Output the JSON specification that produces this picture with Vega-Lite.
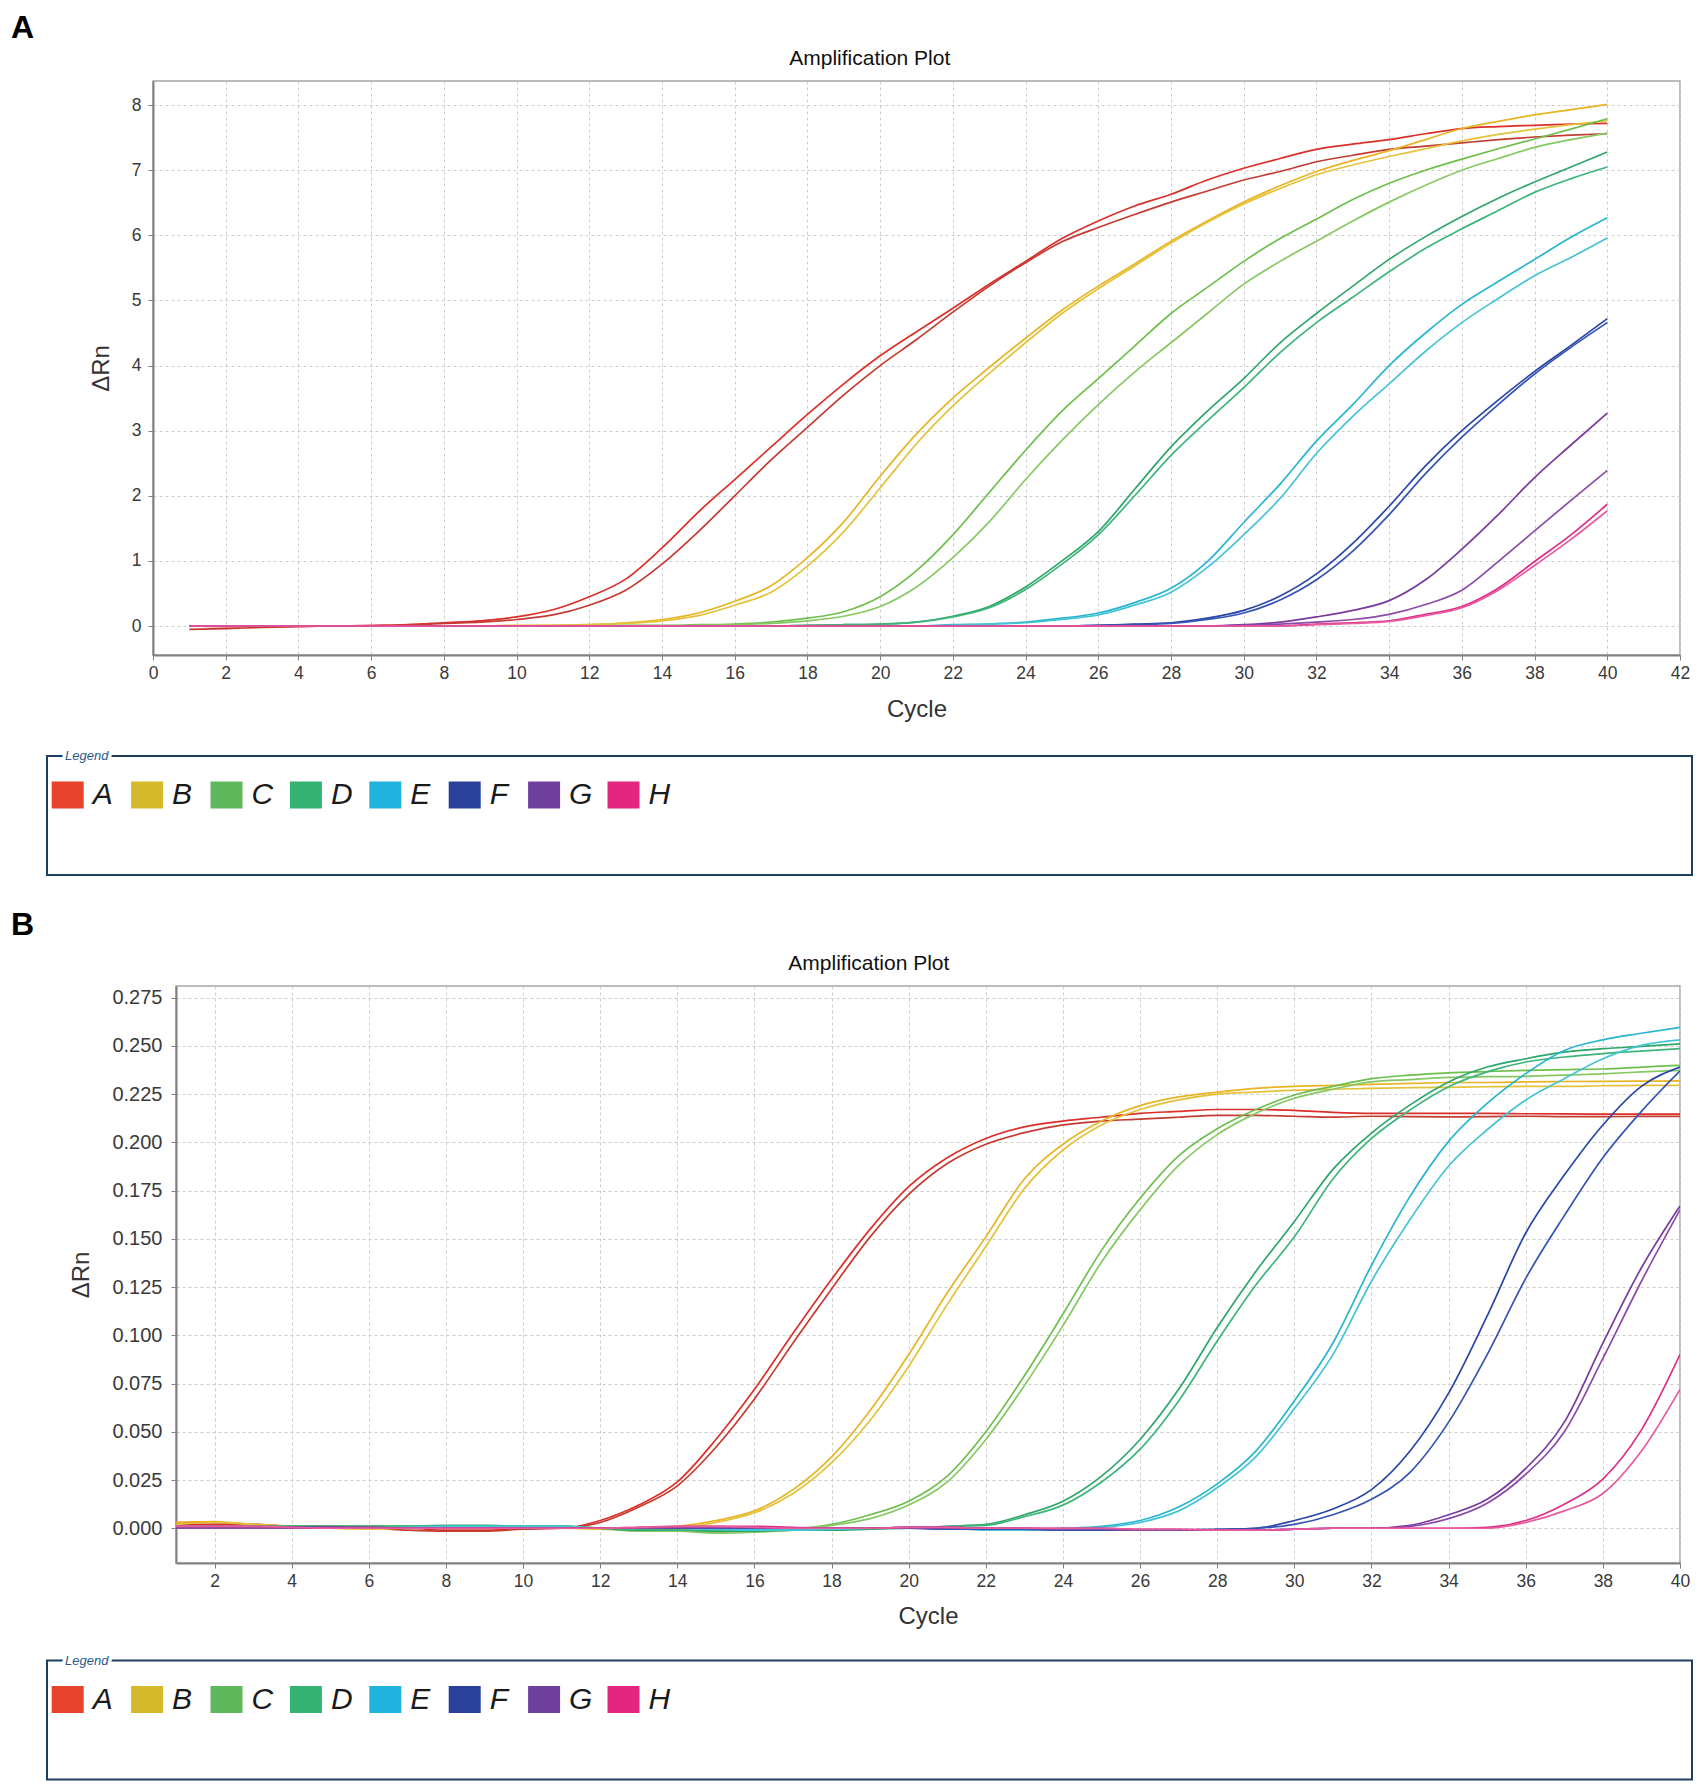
{
  "$schema": "https://vega.github.io/schema/vega-lite/v6.json",
  "background": "white",
  "padding": {"left": 11, "top": 12, "right": 0, "bottom": 0},
  "spacing": 32,
  "resolve": {"scale": {"color": "independent"}},
  "config": {
    "font": "Liberation Sans",
    "view": {"stroke": null},
    "axis": {
      "labelFont": "Liberation Sans", "labelFontSize": 17.5, "labelColor": "#3a3a3a",
      "labelFlush": false, "labelOverlap": false,
      "titleFont": "Liberation Sans", "titleFontSize": 24, "titleFontWeight": "normal", "titleColor": "#333333",
      "gridColor": "#cccccc", "gridDash": [3, 3], "gridWidth": 1,
      "tickColor": "#808080", "tickSize": 5, "domainColor": "#808080", "domainWidth": 2
    }
  },
  "datasets": {
    "wells": [
      {"well": "A", "order": 0}, {"well": "B", "order": 1}, {"well": "C", "order": 2}, {"well": "D", "order": 3},
      {"well": "E", "order": 4}, {"well": "F", "order": 5}, {"well": "G", "order": 6}, {"well": "H", "order": 7}
    ],
    "ampA": [
      {"cycle":1,"A1":0,"A2":-0.05,"B1":0,"B2":0,"C1":0,"C2":0,"D1":0,"D2":0,"E1":0,"E2":0,"F1":0,"F2":0,"G1":0,"G2":0,"H1":0,"H2":0},
      {"cycle":2,"A1":-0.01,"A2":-0.04,"B1":0,"B2":0,"C1":0,"C2":0,"D1":0,"D2":0,"E1":0,"E2":0,"F1":0,"F2":0,"G1":0,"G2":0,"H1":0,"H2":0},
      {"cycle":3,"A1":0,"A2":-0.02,"B1":0,"B2":0,"C1":0,"C2":0,"D1":0,"D2":0,"E1":0,"E2":0,"F1":0,"F2":0,"G1":0,"G2":0,"H1":0,"H2":0},
      {"cycle":4,"A1":0,"A2":-0.01,"B1":0,"B2":0,"C1":0,"C2":0,"D1":0,"D2":0,"E1":0,"E2":0,"F1":0,"F2":0,"G1":0,"G2":0,"H1":0,"H2":0},
      {"cycle":5,"A1":0,"A2":0,"B1":0,"B2":0,"C1":0,"C2":0,"D1":0,"D2":0,"E1":0,"E2":0,"F1":0,"F2":0,"G1":0,"G2":0,"H1":0,"H2":0},
      {"cycle":6,"A1":0.01,"A2":0,"B1":0,"B2":0,"C1":0,"C2":0,"D1":0,"D2":0,"E1":0,"E2":0,"F1":0,"F2":0,"G1":0,"G2":0,"H1":0,"H2":0},
      {"cycle":7,"A1":0.02,"A2":0.01,"B1":0,"B2":0,"C1":0,"C2":0,"D1":0,"D2":0,"E1":0,"E2":0,"F1":0,"F2":0,"G1":0,"G2":0,"H1":0,"H2":0},
      {"cycle":8,"A1":0.05,"A2":0.04,"B1":0,"B2":0,"C1":0,"C2":0,"D1":0,"D2":0,"E1":0,"E2":0,"F1":0,"F2":0,"G1":0,"G2":0,"H1":0,"H2":0},
      {"cycle":9,"A1":0.08,"A2":0.06,"B1":0,"B2":0,"C1":0,"C2":0,"D1":0,"D2":0,"E1":0,"E2":0,"F1":0,"F2":0,"G1":0,"G2":0,"H1":0,"H2":0},
      {"cycle":10,"A1":0.14,"A2":0.1,"B1":0.01,"B2":0,"C1":0,"C2":0,"D1":0,"D2":0,"E1":0,"E2":0,"F1":0,"F2":0,"G1":0,"G2":0,"H1":0,"H2":0},
      {"cycle":11,"A1":0.25,"A2":0.17,"B1":0.01,"B2":0.01,"C1":0,"C2":0,"D1":0,"D2":0,"E1":0,"E2":0,"F1":0,"F2":0,"G1":0,"G2":0,"H1":0,"H2":0},
      {"cycle":12,"A1":0.45,"A2":0.32,"B1":0.02,"B2":0.02,"C1":0,"C2":0,"D1":0,"D2":0,"E1":0,"E2":0,"F1":0,"F2":0,"G1":0,"G2":0,"H1":0,"H2":0},
      {"cycle":13,"A1":0.72,"A2":0.55,"B1":0.05,"B2":0.04,"C1":0.01,"C2":0,"D1":0,"D2":0,"E1":0,"E2":0,"F1":0,"F2":0,"G1":0,"G2":0,"H1":0,"H2":0},
      {"cycle":14,"A1":1.2,"A2":0.95,"B1":0.1,"B2":0.08,"C1":0.01,"C2":0,"D1":0,"D2":0,"E1":0,"E2":0,"F1":0,"F2":0,"G1":0,"G2":0,"H1":0,"H2":0},
      {"cycle":15,"A1":1.75,"A2":1.45,"B1":0.2,"B2":0.16,"C1":0.02,"C2":0.01,"D1":0,"D2":0,"E1":0,"E2":0,"F1":0,"F2":0,"G1":0,"G2":0,"H1":0,"H2":0},
      {"cycle":16,"A1":2.25,"A2":2.0,"B1":0.38,"B2":0.32,"C1":0.03,"C2":0.02,"D1":0,"D2":0,"E1":0,"E2":0,"F1":0,"F2":0,"G1":0,"G2":0,"H1":0,"H2":0},
      {"cycle":17,"A1":2.75,"A2":2.55,"B1":0.62,"B2":0.52,"C1":0.06,"C2":0.04,"D1":0,"D2":0,"E1":0,"E2":0,"F1":0,"F2":0,"G1":0,"G2":0,"H1":0,"H2":0},
      {"cycle":18,"A1":3.25,"A2":3.05,"B1":1.05,"B2":0.92,"C1":0.12,"C2":0.08,"D1":0.01,"D2":0.01,"E1":0,"E2":0,"F1":0,"F2":0,"G1":0,"G2":0,"H1":0,"H2":0},
      {"cycle":19,"A1":3.72,"A2":3.55,"B1":1.6,"B2":1.45,"C1":0.22,"C2":0.15,"D1":0.02,"D2":0.02,"E1":0,"E2":0,"F1":0,"F2":0,"G1":0,"G2":0,"H1":0,"H2":0},
      {"cycle":20,"A1":4.15,"A2":4.0,"B1":2.3,"B2":2.12,"C1":0.45,"C2":0.3,"D1":0.03,"D2":0.03,"E1":0,"E2":0,"F1":0,"F2":0,"G1":0,"G2":0,"H1":0,"H2":0},
      {"cycle":21,"A1":4.52,"A2":4.4,"B1":2.95,"B2":2.8,"C1":0.85,"C2":0.6,"D1":0.06,"D2":0.06,"E1":0,"E2":0,"F1":0,"F2":0,"G1":0,"G2":0,"H1":0,"H2":0},
      {"cycle":22,"A1":4.88,"A2":4.82,"B1":3.5,"B2":3.38,"C1":1.4,"C2":1.05,"D1":0.15,"D2":0.14,"E1":0.02,"E2":0.01,"F1":0,"F2":0,"G1":0,"G2":0,"H1":0,"H2":0},
      {"cycle":23,"A1":5.25,"A2":5.22,"B1":3.97,"B2":3.88,"C1":2.05,"C2":1.6,"D1":0.3,"D2":0.28,"E1":0.03,"E2":0.03,"F1":0,"F2":0,"G1":0,"G2":0,"H1":0,"H2":0},
      {"cycle":24,"A1":5.6,"A2":5.58,"B1":4.42,"B2":4.35,"C1":2.7,"C2":2.25,"D1":0.6,"D2":0.56,"E1":0.06,"E2":0.05,"F1":0,"F2":0,"G1":0,"G2":0,"H1":0,"H2":0},
      {"cycle":25,"A1":5.95,"A2":5.9,"B1":4.85,"B2":4.8,"C1":3.3,"C2":2.85,"D1":1.0,"D2":0.95,"E1":0.12,"E2":0.1,"F1":0,"F2":0,"G1":0,"G2":0,"H1":0,"H2":0},
      {"cycle":26,"A1":6.22,"A2":6.12,"B1":5.22,"B2":5.18,"C1":3.8,"C2":3.4,"D1":1.45,"D2":1.4,"E1":0.2,"E2":0.17,"F1":0.01,"F2":0.01,"G1":0,"G2":0,"H1":0,"H2":0},
      {"cycle":27,"A1":6.45,"A2":6.32,"B1":5.56,"B2":5.53,"C1":4.3,"C2":3.9,"D1":2.1,"D2":2.0,"E1":0.36,"E2":0.32,"F1":0.03,"F2":0.02,"G1":0,"G2":0,"H1":0,"H2":0},
      {"cycle":28,"A1":6.63,"A2":6.51,"B1":5.91,"B2":5.88,"C1":4.8,"C2":4.35,"D1":2.75,"D2":2.62,"E1":0.58,"E2":0.52,"F1":0.05,"F2":0.04,"G1":0,"G2":0,"H1":0,"H2":0},
      {"cycle":29,"A1":6.85,"A2":6.68,"B1":6.22,"B2":6.2,"C1":5.2,"C2":4.8,"D1":3.3,"D2":3.15,"E1":0.99,"E2":0.9,"F1":0.12,"F2":0.1,"G1":0,"G2":0,"H1":0,"H2":0},
      {"cycle":30,"A1":7.03,"A2":6.85,"B1":6.51,"B2":6.48,"C1":5.6,"C2":5.25,"D1":3.8,"D2":3.66,"E1":1.59,"E2":1.4,"F1":0.24,"F2":0.2,"G1":0.02,"G2":0.01,"H1":0,"H2":0},
      {"cycle":31,"A1":7.18,"A2":6.98,"B1":6.76,"B2":6.72,"C1":5.95,"C2":5.6,"D1":4.35,"D2":4.2,"E1":2.18,"E2":1.96,"F1":0.46,"F2":0.4,"G1":0.06,"G2":0.03,"H1":0,"H2":0},
      {"cycle":32,"A1":7.32,"A2":7.13,"B1":6.98,"B2":6.93,"C1":6.25,"C2":5.91,"D1":4.8,"D2":4.66,"E1":2.84,"E2":2.65,"F1":0.8,"F2":0.71,"G1":0.14,"G2":0.06,"H1":0.03,"H2":0.02},
      {"cycle":33,"A1":7.4,"A2":7.23,"B1":7.15,"B2":7.08,"C1":6.55,"C2":6.22,"D1":5.22,"D2":5.05,"E1":3.4,"E2":3.22,"F1":1.27,"F2":1.15,"G1":0.24,"G2":0.1,"H1":0.05,"H2":0.04},
      {"cycle":34,"A1":7.47,"A2":7.32,"B1":7.3,"B2":7.21,"C1":6.8,"C2":6.51,"D1":5.63,"D2":5.44,"E1":4.0,"E2":3.72,"F1":1.84,"F2":1.71,"G1":0.39,"G2":0.18,"H1":0.08,"H2":0.07},
      {"cycle":35,"A1":7.56,"A2":7.37,"B1":7.47,"B2":7.33,"C1":7.0,"C2":6.77,"D1":5.98,"D2":5.8,"E1":4.5,"E2":4.22,"F1":2.46,"F2":2.34,"G1":0.71,"G2":0.33,"H1":0.18,"H2":0.16},
      {"cycle":36,"A1":7.64,"A2":7.42,"B1":7.64,"B2":7.45,"C1":7.17,"C2":7.0,"D1":6.29,"D2":6.1,"E1":4.94,"E2":4.66,"F1":3.0,"F2":2.9,"G1":1.18,"G2":0.55,"H1":0.3,"H2":0.28},
      {"cycle":37,"A1":7.67,"A2":7.47,"B1":7.75,"B2":7.55,"C1":7.33,"C2":7.18,"D1":6.57,"D2":6.38,"E1":5.29,"E2":5.03,"F1":3.47,"F2":3.4,"G1":1.71,"G2":0.99,"H1":0.58,"H2":0.55},
      {"cycle":38,"A1":7.69,"A2":7.51,"B1":7.85,"B2":7.63,"C1":7.48,"C2":7.35,"D1":6.82,"D2":6.66,"E1":5.63,"E2":5.38,"F1":3.91,"F2":3.87,"G1":2.28,"G2":1.46,"H1":0.99,"H2":0.93},
      {"cycle":39,"A1":7.71,"A2":7.54,"B1":7.93,"B2":7.7,"C1":7.63,"C2":7.47,"D1":7.05,"D2":6.87,"E1":5.97,"E2":5.66,"F1":4.31,"F2":4.28,"G1":2.78,"G2":1.93,"H1":1.4,"H2":1.33},
      {"cycle":40,"A1":7.72,"A2":7.56,"B1":8.01,"B2":7.76,"C1":7.79,"C2":7.57,"D1":7.28,"D2":7.05,"E1":6.27,"E2":5.96,"F1":4.72,"F2":4.66,"G1":3.27,"G2":2.39,"H1":1.87,"H2":1.77}
    ],
    "ampB": [
      {"cycle":1,"A1":0.002,"A2":0.003,"B1":0.003,"B2":0.002,"C1":0,"C2":0,"D1":0.001,"D2":0.001,"E1":0,"E2":0,"F1":0,"F2":0,"G1":0,"G2":0,"H1":0.001,"H2":0.001},
      {"cycle":2,"A1":0.002,"A2":0.003,"B1":0.0035,"B2":0.003,"C1":0,"C2":0,"D1":0.001,"D2":0.001,"E1":0,"E2":0,"F1":0,"F2":0,"G1":0,"G2":0,"H1":0.001,"H2":0.001},
      {"cycle":3,"A1":0.002,"A2":0.002,"B1":0.002,"B2":0.002,"C1":0.0005,"C2":0,"D1":0.001,"D2":0.001,"E1":0,"E2":0,"F1":0,"F2":0,"G1":0,"G2":0,"H1":0.001,"H2":0.001},
      {"cycle":4,"A1":0.001,"A2":0.001,"B1":0.001,"B2":0.001,"C1":0.001,"C2":0.0005,"D1":0.001,"D2":0.001,"E1":0,"E2":0,"F1":0.0005,"F2":0.0005,"G1":0,"G2":0,"H1":0.0005,"H2":0.0005},
      {"cycle":5,"A1":0.001,"A2":0,"B1":0,"B2":0,"C1":0.001,"C2":0.001,"D1":0.001,"D2":0.001,"E1":0,"E2":0,"F1":0.0005,"F2":0.0005,"G1":0.0005,"G2":0.0005,"H1":0,"H2":0},
      {"cycle":6,"A1":0,"A2":0,"B1":0,"B2":-0.0005,"C1":0.001,"C2":0.001,"D1":0.001,"D2":0.001,"E1":0,"E2":0,"F1":0,"F2":0,"G1":0.0005,"G2":0.0005,"H1":0,"H2":0},
      {"cycle":7,"A1":0,"A2":-0.001,"B1":0.0005,"B2":0,"C1":0.001,"C2":0.001,"D1":0.001,"D2":0.001,"E1":0.0005,"E2":0.0005,"F1":0,"F2":0,"G1":0,"G2":0,"H1":0,"H2":0},
      {"cycle":8,"A1":-0.001,"A2":-0.0015,"B1":0,"B2":0,"C1":0.001,"C2":0.001,"D1":0.0015,"D2":0.001,"E1":0.001,"E2":0.001,"F1":0,"F2":0,"G1":0,"G2":0,"H1":0,"H2":0},
      {"cycle":9,"A1":-0.001,"A2":-0.0015,"B1":0,"B2":0,"C1":0.001,"C2":0.001,"D1":0.0015,"D2":0.001,"E1":0.001,"E2":0.001,"F1":0,"F2":0,"G1":0,"G2":0,"H1":0,"H2":0},
      {"cycle":10,"A1":0,"A2":-0.0005,"B1":0,"B2":0,"C1":0.001,"C2":0.001,"D1":0.001,"D2":0.001,"E1":0.001,"E2":0.001,"F1":0,"F2":0,"G1":0,"G2":0,"H1":0,"H2":0},
      {"cycle":11,"A1":0,"A2":0,"B1":0,"B2":0,"C1":0.001,"C2":0.001,"D1":0.001,"D2":0.001,"E1":0.001,"E2":0.001,"F1":0,"F2":0,"G1":0,"G2":0,"H1":0,"H2":0},
      {"cycle":12,"A1":0.004,"A2":0.003,"B1":0,"B2":-0.0005,"C1":0,"C2":0,"D1":0,"D2":0,"E1":0,"E2":0,"F1":0,"F2":0,"G1":0,"G2":0,"H1":0,"H2":0},
      {"cycle":13,"A1":0.012,"A2":0.011,"B1":0,"B2":-0.001,"C1":-0.001,"C2":-0.0015,"D1":-0.001,"D2":-0.0005,"E1":0,"E2":0,"F1":0,"F2":0,"G1":0,"G2":0,"H1":0.0005,"H2":0.0005},
      {"cycle":14,"A1":0.024,"A2":0.022,"B1":0.001,"B2":0,"C1":-0.001,"C2":-0.0015,"D1":-0.001,"D2":-0.001,"E1":0,"E2":0,"F1":0,"F2":0,"G1":0.0005,"G2":0.0005,"H1":0.001,"H2":0.001},
      {"cycle":15,"A1":0.046,"A2":0.042,"B1":0.004,"B2":0.003,"C1":-0.002,"C2":-0.0025,"D1":-0.0015,"D2":-0.001,"E1":0,"E2":-0.0005,"F1":0,"F2":0,"G1":0.0005,"G2":0.0005,"H1":0.001,"H2":0.001},
      {"cycle":16,"A1":0.072,"A2":0.067,"B1":0.009,"B2":0.008,"C1":-0.0015,"C2":-0.002,"D1":-0.0015,"D2":-0.001,"E1":-0.0005,"E2":-0.001,"F1":0,"F2":0,"G1":0.0005,"G2":0.0005,"H1":0.001,"H2":0.0005},
      {"cycle":17,"A1":0.101,"A2":0.096,"B1":0.02,"B2":0.018,"C1":-0.0005,"C2":-0.001,"D1":-0.001,"D2":-0.001,"E1":-0.0005,"E2":-0.001,"F1":0,"F2":0,"G1":0,"G2":0,"H1":0.0005,"H2":0},
      {"cycle":18,"A1":0.129,"A2":0.124,"B1":0.037,"B2":0.034,"C1":0.002,"C2":0.0015,"D1":-0.001,"D2":-0.0005,"E1":-0.0005,"E2":-0.0005,"F1":0,"F2":0,"G1":0,"G2":0,"H1":0,"H2":0},
      {"cycle":19,"A1":0.155,"A2":0.151,"B1":0.061,"B2":0.056,"C1":0.007,"C2":0.005,"D1":-0.0005,"D2":0,"E1":0,"E2":0,"F1":0,"F2":0,"G1":0,"G2":0,"H1":0,"H2":0},
      {"cycle":20,"A1":0.177,"A2":0.173,"B1":0.09,"B2":0.084,"C1":0.014,"C2":0.012,"D1":0,"D2":0,"E1":0,"E2":0,"F1":0,"F2":0,"G1":0.0005,"G2":0.0005,"H1":0.0005,"H2":0.0005},
      {"cycle":21,"A1":0.192,"A2":0.189,"B1":0.122,"B2":0.116,"C1":0.027,"C2":0.024,"D1":0.001,"D2":0.001,"E1":0,"E2":0,"F1":-0.0005,"F2":-0.0005,"G1":0.0005,"G2":0.0005,"H1":0.0005,"H2":0.0005},
      {"cycle":22,"A1":0.202,"A2":0.199,"B1":0.151,"B2":0.146,"C1":0.05,"C2":0.046,"D1":0.002,"D2":0.0015,"E1":-0.0005,"E2":-0.001,"F1":-0.0005,"F2":-0.0005,"G1":0,"G2":0,"H1":0,"H2":0},
      {"cycle":23,"A1":0.208,"A2":0.205,"B1":0.181,"B2":0.176,"C1":0.079,"C2":0.074,"D1":0.007,"D2":0.006,"E1":-0.0005,"E2":-0.001,"F1":-0.0005,"F2":-0.0005,"G1":0,"G2":0,"H1":0,"H2":0},
      {"cycle":24,"A1":0.211,"A2":0.209,"B1":0.199,"B2":0.196,"C1":0.111,"C2":0.105,"D1":0.014,"D2":0.012,"E1":0,"E2":-0.0005,"F1":-0.001,"F2":-0.001,"G1":-0.0005,"G2":-0.0005,"H1":0,"H2":0},
      {"cycle":25,"A1":0.213,"A2":0.211,"B1":0.211,"B2":0.209,"C1":0.144,"C2":0.138,"D1":0.027,"D2":0.024,"E1":0.001,"E2":0.0005,"F1":-0.001,"F2":-0.001,"G1":-0.0005,"G2":-0.0005,"H1":0,"H2":0},
      {"cycle":26,"A1":0.215,"A2":0.212,"B1":0.219,"B2":0.217,"C1":0.171,"C2":0.165,"D1":0.046,"D2":0.041,"E1":0.004,"E2":0.003,"F1":-0.001,"F2":-0.001,"G1":-0.001,"G2":-0.001,"H1":-0.0005,"H2":-0.0005},
      {"cycle":27,"A1":0.216,"A2":0.213,"B1":0.2235,"B2":0.222,"C1":0.193,"C2":0.188,"D1":0.072,"D2":0.066,"E1":0.011,"E2":0.009,"F1":-0.001,"F2":-0.001,"G1":-0.001,"G2":-0.001,"H1":-0.0005,"H2":-0.0005},
      {"cycle":28,"A1":0.217,"A2":0.214,"B1":0.226,"B2":0.225,"C1":0.207,"C2":0.204,"D1":0.104,"D2":0.097,"E1":0.023,"E2":0.021,"F1":-0.0005,"F2":-0.0005,"G1":-0.001,"G2":-0.001,"H1":-0.001,"H2":-0.001},
      {"cycle":29,"A1":0.217,"A2":0.214,"B1":0.228,"B2":0.226,"C1":0.217,"C2":0.215,"D1":0.133,"D2":0.126,"E1":0.04,"E2":0.037,"F1":0,"F2":0,"G1":-0.001,"G2":-0.001,"H1":-0.001,"H2":-0.001},
      {"cycle":30,"A1":0.2165,"A2":0.2135,"B1":0.229,"B2":0.227,"C1":0.2245,"C2":0.2228,"D1":0.159,"D2":0.151,"E1":0.066,"E2":0.062,"F1":0.004,"F2":0.002,"G1":-0.0005,"G2":-0.0005,"H1":-0.0005,"H2":-0.0005},
      {"cycle":31,"A1":0.2155,"A2":0.213,"B1":0.2295,"B2":0.2275,"C1":0.229,"C2":0.2275,"D1":0.186,"D2":0.181,"E1":0.096,"E2":0.09,"F1":0.01,"F2":0.007,"G1":0,"G2":0,"H1":0,"H2":0},
      {"cycle":32,"A1":0.215,"A2":0.2135,"B1":0.23,"B2":0.228,"C1":0.233,"C2":0.2313,"D1":0.2048,"D2":0.202,"E1":0.1363,"E2":0.128,"F1":0.02,"F2":0.015,"G1":0,"G2":0,"H1":0,"H2":0},
      {"cycle":33,"A1":0.215,"A2":0.2133,"B1":0.2305,"B2":0.2283,"C1":0.2348,"C2":0.2325,"D1":0.2194,"D2":0.2168,"E1":0.172,"E2":0.16,"F1":0.04,"F2":0.029,"G1":0.0015,"G2":0.001,"H1":0,"H2":0},
      {"cycle":34,"A1":0.215,"A2":0.2132,"B1":0.231,"B2":0.2285,"C1":0.236,"C2":0.2336,"D1":0.2313,"D2":0.2288,"E1":0.2005,"E2":0.1877,"F1":0.07,"F2":0.055,"G1":0.007,"G2":0.005,"H1":0,"H2":0},
      {"cycle":35,"A1":0.215,"A2":0.2133,"B1":0.231,"B2":0.2288,"C1":0.2367,"C2":0.234,"D1":0.239,"D2":0.2365,"E1":0.2202,"E2":0.2065,"F1":0.11,"F2":0.09,"G1":0.015,"G2":0.013,"H1":0.0005,"H2":0},
      {"cycle":36,"A1":0.2148,"A2":0.2135,"B1":0.2313,"B2":0.229,"C1":0.2373,"C2":0.2342,"D1":0.2433,"D2":0.2416,"E1":0.2356,"E2":0.2219,"F1":0.153,"F2":0.1295,"G1":0.031,"G2":0.028,"H1":0.004,"H2":0.003},
      {"cycle":37,"A1":0.2147,"A2":0.2133,"B1":0.2315,"B2":0.229,"C1":0.2377,"C2":0.2348,"D1":0.2467,"D2":0.2442,"E1":0.2476,"E2":0.233,"F1":0.183,"F2":0.162,"G1":0.055,"G2":0.05,"H1":0.0125,"H2":0.009},
      {"cycle":38,"A1":0.2146,"A2":0.2133,"B1":0.2316,"B2":0.2293,"C1":0.238,"C2":0.2355,"D1":0.2485,"D2":0.246,"E1":0.2531,"E2":0.2433,"F1":0.209,"F2":0.192,"G1":0.096,"G2":0.088,"H1":0.0255,"H2":0.018},
      {"cycle":39,"A1":0.2146,"A2":0.2134,"B1":0.2317,"B2":0.2295,"C1":0.239,"C2":0.2365,"D1":0.2497,"D2":0.2473,"E1":0.2565,"E2":0.2502,"F1":0.229,"F2":0.216,"G1":0.135,"G2":0.128,"H1":0.051,"H2":0.04},
      {"cycle":40,"A1":0.2146,"A2":0.2134,"B1":0.2318,"B2":0.2295,"C1":0.2399,"C2":0.2373,"D1":0.251,"D2":0.2485,"E1":0.2596,"E2":0.2531,"F1":0.239,"F2":0.237,"G1":0.167,"G2":0.165,"H1":0.09,"H2":0.072}
    ]
  },
  "vconcat": [
    {
      "title": {"text": "A", "anchor": "start", "frame": "bounds", "dx": -35, "offset": 2, "font": "Liberation Sans", "fontSize": 32, "fontWeight": "bold", "color": "#000000"},
      "spacing": 26,
      "resolve": {"scale": {"color": "independent"}},
      "vconcat": [
        {
          "spacing": 0,
          "hconcat": [
            {"width": 42, "height": 1, "data": {"values": []}, "mark": {"type": "point", "opacity": 0}},
            {
              "width": 1527,
              "height": 574,
              "view": {"stroke": "#a6a6a6", "strokeWidth": 1.5},
              "title": {"text": "Amplification Plot", "anchor": "middle", "frame": "bounds", "dx": -20, "offset": 12, "font": "Liberation Sans", "fontSize": 21, "fontWeight": "normal", "color": "#111111"},
              "data": {"name": "ampA"},
              "transform": [{"fold": ["A1","A2","B1","B2","C1","C2","D1","D2","E1","E2","F1","F2","G1","G2","H1","H2"], "as": ["well", "dRn"]}],
              "mark": {"type": "line", "strokeWidth": 1.7, "interpolate": "monotone", "clip": true},
              "encoding": {
                "x": {"field": "cycle", "type": "quantitative", "scale": {"domain": [0, 42], "nice": false, "zero": false},
                      "axis": {"values": [0,2,4,6,8,10,12,14,16,18,20,22,24,26,28,30,32,34,36,38,40,42], "title": "Cycle", "labelPadding": 4, "titlePadding": 16}},
                "y": {"field": "dRn", "type": "quantitative", "scale": {"domain": [-0.445, 8.37], "nice": false, "zero": false},
                      "axis": {"values": [0,1,2,3,4,5,6,7,8], "title": "ΔRn", "labelPadding": 7, "titlePadding": 17.5}},
                "color": {"field": "well", "type": "nominal", "legend": null,
                          "scale": {"domain": ["A1","A2","B1","B2","C1","C2","D1","D2","E1","E2","F1","F2","G1","G2","H1","H2"],
                                    "range": ["#dc2f2a","#c43b32","#e8b424","#e3c23a","#6dbf4c","#86c863","#2ea66a","#3db57a","#27b5cf","#46c3d6","#2846a6","#3553b2","#7a3a9c","#8b4aa8","#dc2e86","#e65a9e"]}}
              }
            }
          ]
        },
        {
          "width": 1645,
          "height": 119,
          "view": {"stroke": "#1f3f5f", "strokeWidth": 2},
          "data": {"name": "wells"},
          "layer": [
            {
              "mark": {"type": "point", "shape": "M-1,-0.84H1V0.84H-1Z", "filled": true, "size": 1024, "opacity": 1, "yOffset": -20.5},
              "encoding": {
                "x": {"field": "order", "type": "quantitative", "scale": {"domain": [-0.2607, 20.457], "nice": false, "zero": false}, "axis": null},
                "color": {"field": "well", "type": "nominal", "legend": null,
                  "scale": {"domain": ["A","B","C","D","E","F","G","H"], "range": ["#e8432b","#d6b92a","#5cb85a","#35b373","#1fb3de","#2a409a","#6f3f9f","#e3257f"]}}
              }
            },
            {
              "mark": {"type": "text", "align": "left", "baseline": "middle", "dx": 25, "yOffset": -20.5, "font": "Liberation Sans", "fontSize": 30, "fontStyle": "italic", "color": "#1a1a1a"},
              "encoding": {
                "x": {"field": "order", "type": "quantitative", "scale": {"domain": [-0.2607, 20.457], "nice": false, "zero": false}, "axis": null},
                "text": {"field": "well"}
              }
            },
            {
              "data": {"values": [{"t": "Legend"}]},
              "mark": {"type": "text", "align": "left", "baseline": "middle", "yOffset": -59.5, "font": "Liberation Sans", "fontSize": 13, "fontStyle": "italic", "fill": "white", "stroke": "white", "strokeWidth": 7},
              "encoding": {
                "x": {"datum": -0.034, "type": "quantitative", "scale": {"domain": [-0.2607, 20.457], "nice": false, "zero": false}, "axis": null},
                "text": {"field": "t"}
              }
            },
            {
              "data": {"values": [{"t": "Legend"}]},
              "mark": {"type": "text", "align": "left", "baseline": "middle", "yOffset": -59.5, "font": "Liberation Sans", "fontSize": 13, "fontStyle": "italic", "color": "#2a5a8c"},
              "encoding": {
                "x": {"datum": -0.034, "type": "quantitative", "scale": {"domain": [-0.2607, 20.457], "nice": false, "zero": false}, "axis": null},
                "text": {"field": "t"}
              }
            }
          ]
        }
      ]
    },
    {
      "title": {"text": "B", "anchor": "start", "frame": "bounds", "dx": -35, "offset": 10.5, "font": "Liberation Sans", "fontSize": 32, "fontWeight": "bold", "color": "#000000"},
      "spacing": 23.5,
      "resolve": {"scale": {"color": "independent"}},
      "vconcat": [
        {
          "spacing": 0,
          "hconcat": [
            {"width": 21.5, "height": 1, "data": {"values": []}, "mark": {"type": "point", "opacity": 0}},
            {
              "width": 1504,
              "height": 577,
              "view": {"stroke": "#a6a6a6", "strokeWidth": 1.5},
              "title": {"text": "Amplification Plot", "anchor": "middle", "frame": "bounds", "dx": -11, "offset": 12, "font": "Liberation Sans", "fontSize": 21, "fontWeight": "normal", "color": "#111111"},
              "data": {"name": "ampB"},
              "transform": [{"fold": ["A1","A2","B1","B2","C1","C2","D1","D2","E1","E2","F1","F2","G1","G2","H1","H2"], "as": ["well", "dRn"]}],
              "mark": {"type": "line", "strokeWidth": 1.7, "interpolate": "monotone", "clip": true},
              "encoding": {
                "x": {"field": "cycle", "type": "quantitative", "scale": {"domain": [1, 40], "nice": false, "zero": false},
                      "axis": {"values": [2,4,6,8,10,12,14,16,18,20,22,24,26,28,30,32,34,36,38,40], "title": "Cycle", "labelPadding": 4, "titlePadding": 15}},
                "y": {"field": "dRn", "type": "quantitative", "scale": {"domain": [-0.018, 0.281], "nice": false, "zero": false},
                      "axis": {"values": [0,0.025,0.05,0.075,0.1,0.125,0.15,0.175,0.2,0.225,0.25,0.275], "format": ".3f", "title": "ΔRn", "labelFontSize": 20, "labelPadding": 9, "titlePadding": 18}},
                "color": {"field": "well", "type": "nominal", "legend": null,
                          "scale": {"domain": ["A1","A2","B1","B2","C1","C2","D1","D2","E1","E2","F1","F2","G1","G2","H1","H2"],
                                    "range": ["#dc2f2a","#c43b32","#e8b424","#e3c23a","#6dbf4c","#86c863","#2ea66a","#3db57a","#27b5cf","#46c3d6","#2846a6","#3553b2","#7a3a9c","#8b4aa8","#dc2e86","#e65a9e"]}}
              }
            }
          ]
        },
        {
          "width": 1645,
          "height": 119,
          "view": {"stroke": "#1f3f5f", "strokeWidth": 2},
          "data": {"name": "wells"},
          "layer": [
            {
              "mark": {"type": "point", "shape": "M-1,-0.84H1V0.84H-1Z", "filled": true, "size": 1024, "opacity": 1, "yOffset": -20.5},
              "encoding": {
                "x": {"field": "order", "type": "quantitative", "scale": {"domain": [-0.2607, 20.457], "nice": false, "zero": false}, "axis": null},
                "color": {"field": "well", "type": "nominal", "legend": null,
                  "scale": {"domain": ["A","B","C","D","E","F","G","H"], "range": ["#e8432b","#d6b92a","#5cb85a","#35b373","#1fb3de","#2a409a","#6f3f9f","#e3257f"]}}
              }
            },
            {
              "mark": {"type": "text", "align": "left", "baseline": "middle", "dx": 25, "yOffset": -20.5, "font": "Liberation Sans", "fontSize": 30, "fontStyle": "italic", "color": "#1a1a1a"},
              "encoding": {
                "x": {"field": "order", "type": "quantitative", "scale": {"domain": [-0.2607, 20.457], "nice": false, "zero": false}, "axis": null},
                "text": {"field": "well"}
              }
            },
            {
              "data": {"values": [{"t": "Legend"}]},
              "mark": {"type": "text", "align": "left", "baseline": "middle", "yOffset": -59.5, "font": "Liberation Sans", "fontSize": 13, "fontStyle": "italic", "fill": "white", "stroke": "white", "strokeWidth": 7},
              "encoding": {
                "x": {"datum": -0.034, "type": "quantitative", "scale": {"domain": [-0.2607, 20.457], "nice": false, "zero": false}, "axis": null},
                "text": {"field": "t"}
              }
            },
            {
              "data": {"values": [{"t": "Legend"}]},
              "mark": {"type": "text", "align": "left", "baseline": "middle", "yOffset": -59.5, "font": "Liberation Sans", "fontSize": 13, "fontStyle": "italic", "color": "#2a5a8c"},
              "encoding": {
                "x": {"datum": -0.034, "type": "quantitative", "scale": {"domain": [-0.2607, 20.457], "nice": false, "zero": false}, "axis": null},
                "text": {"field": "t"}
              }
            }
          ]
        }
      ]
    }
  ]
}
